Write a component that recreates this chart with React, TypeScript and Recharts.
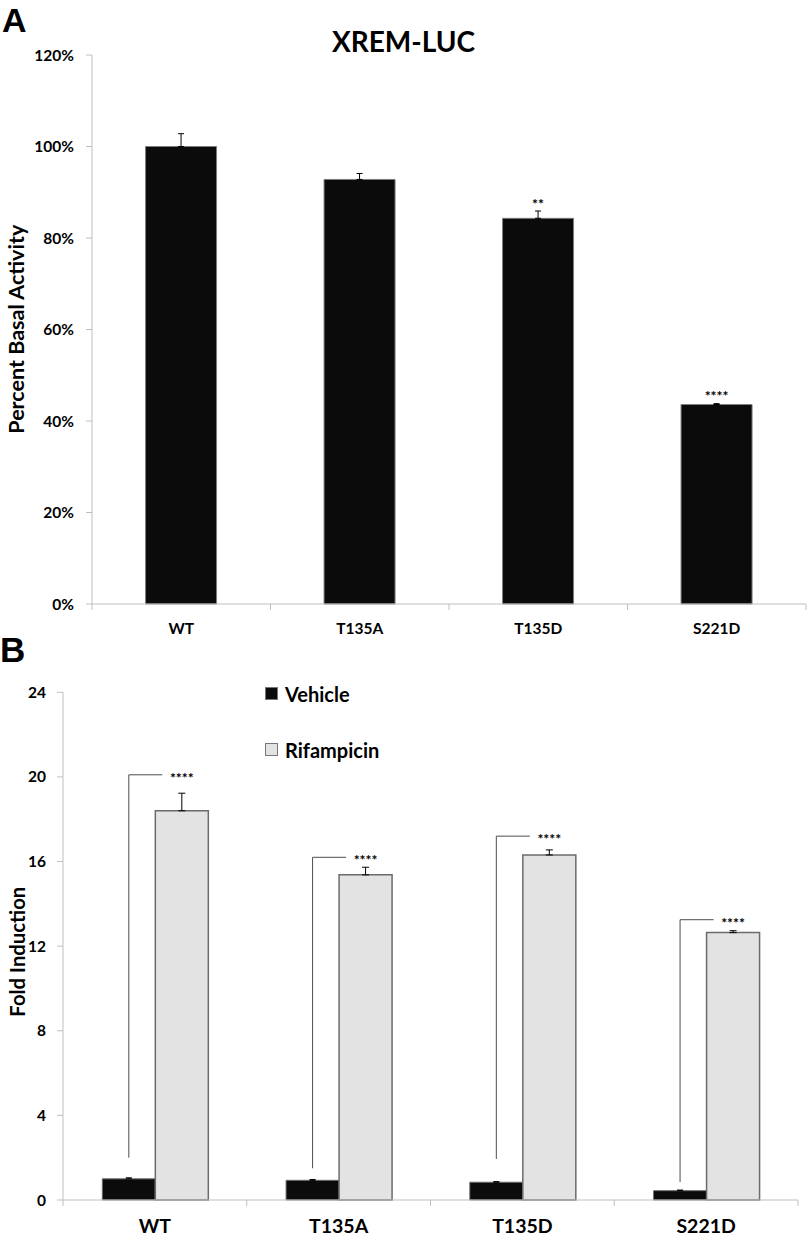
import { BarChart, Bar, XAxis, YAxis, ErrorBar, LabelList, Legend } from 'recharts'

const categories = ['WT', 'T135A', 'T135D', 'S221D']

// panel A: XREM-LUC basal activity
const basalActivity = [100, 92.8, 84.3, 43.6]
const basalError = [2.8, 1.3, 1.6, 0.2]
const basalSig = ['', '', '**', '****']
const basalSigLevel = [0, 0, 88.1, 46.1]
const percentTicks = [0, 20, 40, 60, 80, 100, 120]

// panel B: fold induction
const seriesNames = ['Vehicle', 'Rifampicin']
const vehicle = [1.0, 0.93, 0.84, 0.44]
const vehicleError = [0.05, 0.04, 0.03, 0.03]
const rifampicin = [18.4, 15.37, 16.31, 12.64]
const rifampicinError = [0.83, 0.36, 0.24, 0.09]
const bracketTop = [20.1, 16.2, 17.2, 13.25]
const bracketBottom = [2.0, 1.5, 1.94, 0.85]
const foldSig = ['****', '****', '****', '****']
const foldTicks = [0, 4, 8, 12, 16, 20, 24]

const basalData = categories.map((name, i) => ({
  name,
  value: basalActivity[i],
  err: [0, basalError[i]],
}))

const foldData = categories.map((name, i) => ({
  name,
  vehicle: vehicle[i],
  vehicleErr: [0, vehicleError[i]],
  rifampicin: rifampicin[i],
  rifErr: [0, rifampicinError[i]],
}))

const FONT = 'Lato, "Open Sans", sans-serif'
const WEIGHT = 700
const AXIS = '#bfbfbf'

// chart geometry
const W = 809
const A_H = 640
const A_LEFT = 92
const A_RIGHT = 3
const B_H = 598
const B_LEFT = 63
const B_RIGHT = 11

// excel style category ticks: line at band edges, label in the middle
function CategoryTick(props: any) {
  const { x, y, payload, index, visibleTicksCount, half, labelSize, labelDy } = props
  return (
    <g>
      <line x1={x - half} y1={y} x2={x - half} y2={y + 6} stroke={AXIS} />
      {index === visibleTicksCount - 1 && (
        <line x1={x + half} y1={y} x2={x + half} y2={y + 6} stroke={AXIS} />
      )}
      <text x={x} y={y + labelDy} textAnchor="middle" fontFamily={FONT} fontWeight={WEIGHT} fontSize={labelSize} fill="#000">
        {payload.value}
      </text>
    </g>
  )
}

function boxOf(props: any) {
  const vb = props.viewBox ?? props
  return { x: vb.x, y: vb.y, width: vb.width, height: vb.height }
}

const renderBasalSig = (props: any) => {
  const i = props.index
  if (!basalSig[i]) return null
  const { x, y, width, height } = boxOf(props)
  const base = y + height
  const cy = base - (basalSigLevel[i] * height) / basalActivity[i]
  return (
    <text x={x + width / 2} y={cy + 8} textAnchor="middle" fontFamily={FONT} fontWeight={WEIGHT} fontSize={14} fill="#000">
      {basalSig[i]}
    </text>
  )
}

const renderBracket = (props: any) => {
  const i = props.index
  const { x, y, width, height } = boxOf(props)
  const base = y + height
  const px = height / rifampicin[i]
  const top = base - bracketTop[i] * px
  const bottom = base - bracketBottom[i] * px
  const vx = x - width / 2
  return (
    <g>
      <polyline points={`${vx},${bottom} ${vx},${top} ${x + 7},${top}`} fill="none" stroke="#4d4d4d" strokeWidth={1} />
      <text x={x + width / 2} y={top + 8} textAnchor="middle" fontFamily={FONT} fontWeight={WEIGHT} fontSize={14} fill="#000">
        {foldSig[i]}
      </text>
    </g>
  )
}

const renderLegend = (props: any) => {
  const items = [...(props.payload ?? [])].sort(
    (a: any, b: any) => seriesNames.indexOf(a.value) - seriesNames.indexOf(b.value),
  )
  return (
    <div style={{ fontFamily: FONT, fontWeight: WEIGHT, fontSize: 20, color: '#000' }}>
      {items.map((item: any) => (
        <div key={item.value} style={{ display: 'flex', alignItems: 'center', height: 14, marginBottom: 42 }}>
          <span
            style={{
              display: 'inline-block',
              width: 13,
              height: 13,
              background: item.color,
              border: '1px solid #777',
              boxSizing: 'border-box',
              marginRight: 7,
            }}
          />
          <span>{item.value}</span>
        </div>
      ))}
    </div>
  )
}

const yTick = { fill: '#000', fontSize: 15.5, fontWeight: WEIGHT, fontFamily: FONT }

export default function App() {
  const halfA = (W - A_LEFT - A_RIGHT) / categories.length / 2
  const halfB = (W - B_LEFT - B_RIGHT) / categories.length / 2

  return (
    <div style={{ position: 'absolute', left: 0, top: 0, width: W, height: 1238, background: '#fff' }}>
      <div style={{ position: 'absolute', left: 0, top: 0 }}>
        <BarChart width={W} height={A_H} data={basalData} margin={{ top: 55, right: A_RIGHT, bottom: 0, left: 0 }} barCategoryGap="30%">
          <XAxis
            dataKey="name"
            height={36}
            interval={0}
            tickSize={0}
            tickMargin={0}
            tickLine={false}
            axisLine={{ stroke: AXIS }}
            tick={<CategoryTick half={halfA} labelSize={15.5} labelDy={30} />}
          />
          <YAxis
            width={A_LEFT}
            domain={[0, 120]}
            ticks={percentTicks}
            interval={0}
            tickFormatter={(v: number) => `${v}%`}
            tickSize={6}
            tickMargin={12}
            axisLine={{ stroke: AXIS }}
            tickLine={{ stroke: AXIS }}
            tick={yTick}
          />
          <Bar dataKey="value" fill="#0b0b0b" stroke="#7d7d7d" strokeWidth={1} isAnimationActive={false}>
            <ErrorBar dataKey="err" width={3} stroke="#000" strokeWidth={1} direction="y" />
            <LabelList dataKey="value" content={renderBasalSig} />
          </Bar>
        </BarChart>
      </div>

      <div style={{ position: 'absolute', left: 0, top: A_H }}>
        <BarChart
          width={W}
          height={B_H}
          data={foldData}
          margin={{ top: 52.3, right: B_RIGHT, bottom: 0, left: 0 }}
          barCategoryGap="21.4%"
          barGap={0}
        >
          <XAxis
            dataKey="name"
            height={38}
            interval={0}
            tickSize={0}
            tickMargin={0}
            tickLine={false}
            axisLine={{ stroke: AXIS }}
            tick={<CategoryTick half={halfB} labelSize={19.5} labelDy={33} />}
          />
          <YAxis
            width={B_LEFT}
            domain={[0, 24]}
            ticks={foldTicks}
            interval={0}
            tickSize={6}
            tickMargin={11}
            axisLine={{ stroke: AXIS }}
            tickLine={{ stroke: AXIS }}
            tick={yTick}
          />
          <Legend
            layout="vertical"
            align="center"
            verticalAlign="middle"
            content={renderLegend}
            wrapperStyle={{ left: 265, top: 46.5, width: 'auto' }}
          />
          <Bar dataKey="vehicle" name="Vehicle" fill="#0b0b0b" stroke="#6b6b6b" strokeWidth={1} isAnimationActive={false}>
            <ErrorBar dataKey="vehicleErr" width={3} stroke="#000" strokeWidth={1} direction="y" />
          </Bar>
          <Bar dataKey="rifampicin" name="Rifampicin" fill="#e3e3e3" stroke="#6b6b6b" strokeWidth={1.5} isAnimationActive={false}>
            <ErrorBar dataKey="rifErr" width={3.5} stroke="#000" strokeWidth={1} direction="y" />
            <LabelList dataKey="rifampicin" content={renderBracket} />
          </Bar>
        </BarChart>
      </div>

      <svg width={W} height={1238} style={{ position: 'absolute', left: 0, top: 0, pointerEvents: 'none' }}>
        <text x={2} y={32} fontFamily='"Liberation Sans", Arial, sans-serif' fontWeight={700} fontSize={34}>A</text>
        <text x={0} y={661.5} fontFamily='"Liberation Sans", Arial, sans-serif' fontWeight={700} fontSize={35}>B</text>
        <text x={403.5} y={51.5} textAnchor="middle" fontFamily={FONT} fontWeight={WEIGHT} fontSize={28}>XREM-LUC</text>
        <text transform="translate(24, 329.2) rotate(-90)" textAnchor="middle" fontFamily={FONT} fontWeight={WEIGHT} fontSize={21.5}>
          Percent Basal Activity
        </text>
        <text transform="translate(25, 951.7) rotate(-90)" textAnchor="middle" fontFamily={FONT} fontWeight={WEIGHT} fontSize={20.3}>
          Fold Induction
        </text>
      </svg>
    </div>
  )
}
